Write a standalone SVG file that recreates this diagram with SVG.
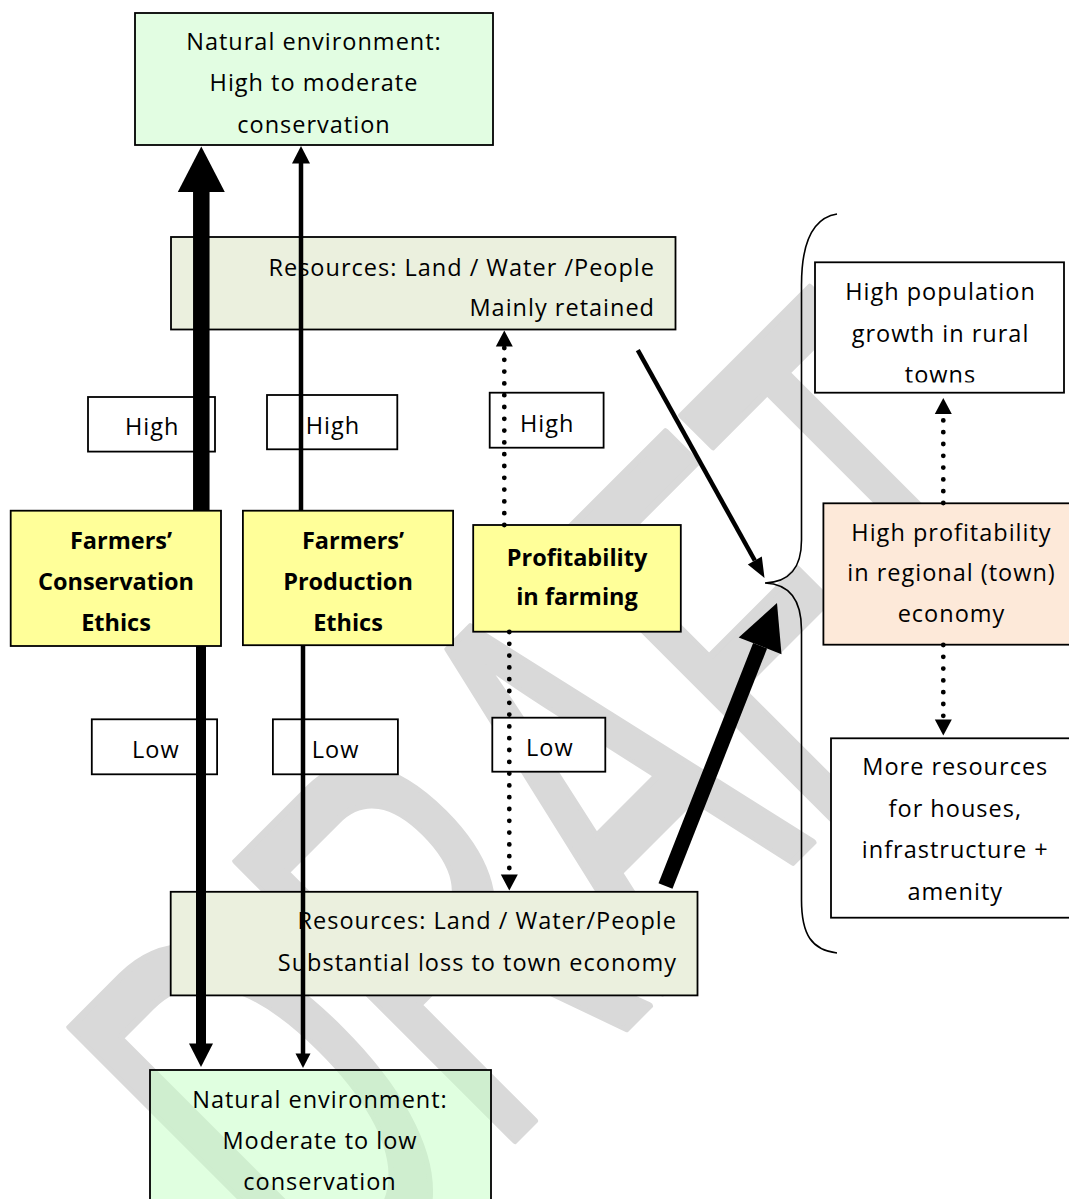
<svg xmlns="http://www.w3.org/2000/svg" width="1069" height="1199" viewBox="0 0 1069 1199">
  <defs>
    <style>
      .box{stroke:#000;stroke-width:1.8}
      .green{fill:#e2fde2}
      .greenT{fill:#c6ffc6;fill-opacity:0.55}
      .res{fill:#ebf0de}
      .yellow{fill:#ffff99}
      .pink{fill:#fde9d9}
      .white{fill:#fff}
      .t{font-family:'Open Sans','Liberation Sans',sans-serif;font-size:23.5px;letter-spacing:1px;fill:#000}
      .c{text-anchor:middle}
      .e{text-anchor:end}
      .b{font-weight:700;letter-spacing:0}
      .dot{fill:none;stroke:#000;stroke-width:4.8;stroke-linecap:round;stroke-dasharray:0 11.8}
      .line{fill:none;stroke:#000;stroke-linecap:butt}
      .head{fill:#000}
      .wm{font-family:'Liberation Sans',sans-serif;font-size:325px;fill:#d9d9d9;stroke:#d9d9d9;stroke-width:4;stroke-linejoin:round}
    </style>
    <clipPath id="clipTowns"><rect x="815" y="262" width="249" height="120.5"/></clipPath>
    <path id="dotHead" d="M0,0 L8.5,16 L-8.5,16 Z"/>
  </defs>

  <!-- background watermark -->
  <g id="watermark">
    <text class="wm" transform="translate(329,1326) rotate(-45) scale(1,1.763)">DRAFT</text>
  </g>

  <!-- nodes -->
  <g id="env-high">
    <rect class="box green" x="135" y="13" width="358" height="132"/>
    <text class="t c" x="314" y="50">Natural environment:</text>
    <text class="t c" x="314" y="91.3">High to moderate</text>
    <text class="t c" x="314" y="133">conservation</text>
  </g>

  <g id="resources-retained">
    <rect class="box res" x="171" y="237" width="504.5" height="92.5"/>
    <text class="t e" x="655" y="275.5">Resources: Land / Water /People</text>
    <text class="t e" x="655" y="316">Mainly retained</text>
  </g>

  <g id="high-conservation">
    <rect class="box white" x="88" y="397" width="127" height="54.6"/>
    <text class="t" x="125" y="435">High</text>
  </g>
  <g id="high-production">
    <rect class="box white" x="267" y="395" width="130.3" height="54.3"/>
    <text class="t" x="305.8" y="434">High</text>
  </g>
  <g id="high-profitability">
    <rect class="box white" x="489.7" y="392.7" width="113.9" height="55"/>
    <text class="t" x="520" y="431.7">High</text>
  </g>

  <g id="conservation-ethics">
    <rect class="box yellow" x="10.7" y="510.7" width="210.3" height="135.3"/>
    <text class="t c b" x="121" y="548.5">Farmers’</text>
    <text class="t c b" x="116" y="589.5">Conservation</text>
    <text class="t c b" x="116" y="630.5">Ethics</text>
  </g>
  <g id="production-ethics">
    <rect class="box yellow" x="242.9" y="510.7" width="210.2" height="134.5"/>
    <text class="t c b" x="353" y="548.5">Farmers’</text>
    <text class="t c b" x="348" y="589.5">Production</text>
    <text class="t c b" x="348" y="630.5">Ethics</text>
  </g>
  <g id="farm-profitability">
    <rect class="box yellow" x="473.2" y="525" width="207.6" height="106.7"/>
    <text class="t c b" x="577" y="565.5">Profitability</text>
    <text class="t c b" x="577" y="605">in farming</text>
  </g>

  <g id="low-conservation">
    <rect class="box white" x="91.8" y="719.3" width="125.3" height="55"/>
    <text class="t" x="132" y="758">Low</text>
  </g>
  <g id="low-production">
    <rect class="box white" x="272.9" y="719.3" width="125" height="55"/>
    <text class="t" x="311.8" y="758">Low</text>
  </g>
  <g id="low-profitability">
    <rect class="box white" x="492.3" y="717.7" width="113" height="54"/>
    <text class="t" x="526" y="756">Low</text>
  </g>

  <g id="resources-lost">
    <rect class="box res" x="170.7" y="891.8" width="526.8" height="103.6"/>
    <text class="t e" x="677" y="929.3">Resources: Land / Water/People</text>
    <text class="t e" x="677" y="970.7">Substantial loss to town economy</text>
  </g>

  <g id="env-low">
    <rect class="box greenT" x="150" y="1070" width="341" height="140"/>
    <text class="t c" x="320" y="1107.7">Natural environment:</text>
    <text class="t c" x="320" y="1149">Moderate to low</text>
    <text class="t c" x="320" y="1189.5">conservation</text>
  </g>

  <g id="town-population">
    <rect class="box white" x="815" y="262.3" width="249" height="130.4"/>
    <text class="t c" x="940.5" y="300">High population</text>
    <text class="t c" x="940.5" y="341.5">growth in rural</text>
    <text class="t c" x="940.5" y="383.2" clip-path="url(#clipTowns)">towns</text>
  </g>
  <g id="town-profitability">
    <rect class="box pink" x="823.4" y="503.3" width="260" height="141.4"/>
    <text class="t c" x="951.5" y="540.7">High profitability</text>
    <text class="t c" x="951.5" y="581.3">in regional (town)</text>
    <text class="t c" x="951.5" y="622">economy</text>
  </g>
  <g id="town-resources">
    <rect class="box white" x="831" y="738.3" width="250" height="179.4"/>
    <text class="t c" x="955.3" y="775">More resources</text>
    <text class="t c" x="955.3" y="816.5">for houses,</text>
    <text class="t c" x="955.3" y="858">infrastructure +</text>
    <text class="t c" x="955.3" y="899.5">amenity</text>
  </g>

  <!-- connectors -->
  <g id="connectors">
    <!-- conservation ethics: high (thick up) / low (down) -->
    <line class="line" x1="201.3" y1="511" x2="201.3" y2="190" stroke-width="16.5"/>
    <polygon class="head" points="201.3,146.5 224.8,192 177.8,192"/>
    <line class="line" x1="201" y1="646" x2="201" y2="1045" stroke-width="10"/>
    <polygon class="head" points="201,1067 213,1043.5 189,1043.5"/>

    <!-- production ethics: high / low -->
    <line class="line" x1="301" y1="511" x2="301" y2="162" stroke-width="4.5"/>
    <polygon class="head" points="301,146 310,163.5 292,163.5"/>
    <line class="line" x1="303" y1="645" x2="303" y2="1054.5" stroke-width="4.5"/>
    <polygon class="head" points="303,1068 310.5,1053.5 295.5,1053.5"/>

    <!-- profitability in farming: dotted links -->
    <line class="dot" x1="504.3" y1="525" x2="504.3" y2="346"/>
    <use href="#dotHead" transform="translate(504.3,330.5)"/>
    <line class="dot" x1="509.3" y1="632" x2="509.3" y2="874"/>
    <use href="#dotHead" transform="translate(509.3,890.5) rotate(180)"/>

    <!-- regional economy: dotted links -->
    <line class="dot" x1="943.3" y1="503" x2="943.3" y2="414"/>
    <use href="#dotHead" transform="translate(943.3,398)"/>
    <line class="dot" x1="943.3" y1="645" x2="943.3" y2="720"/>
    <use href="#dotHead" transform="translate(943.3,735.5) rotate(180)"/>

    <!-- retained resources to the town group -->
    <line class="line" x1="637.8" y1="350.1" x2="754.8" y2="560.5" stroke-width="4.5"/>
    <polygon class="head" points="764.5,578 761.8,556.6 747.8,564.4"/>

    <!-- lost resources to the town group -->
    <line class="line" x1="665.5" y1="886" x2="760.1" y2="645.8" stroke-width="15"/>
    <polygon class="head" points="777,603 781.5,654.2 738.7,637.4"/>

    <!-- brace grouping the town boxes -->
    <path d="M837,214 C812,218 801.5,245 801.5,285 L801.5,540 C801.5,568 790,582 765,583 C790,584 801.5,600 801.5,630 L801.5,900 C801.5,935 812,950 837,953" fill="none" stroke="#000" stroke-width="1.6"/>
  </g>
</svg>
